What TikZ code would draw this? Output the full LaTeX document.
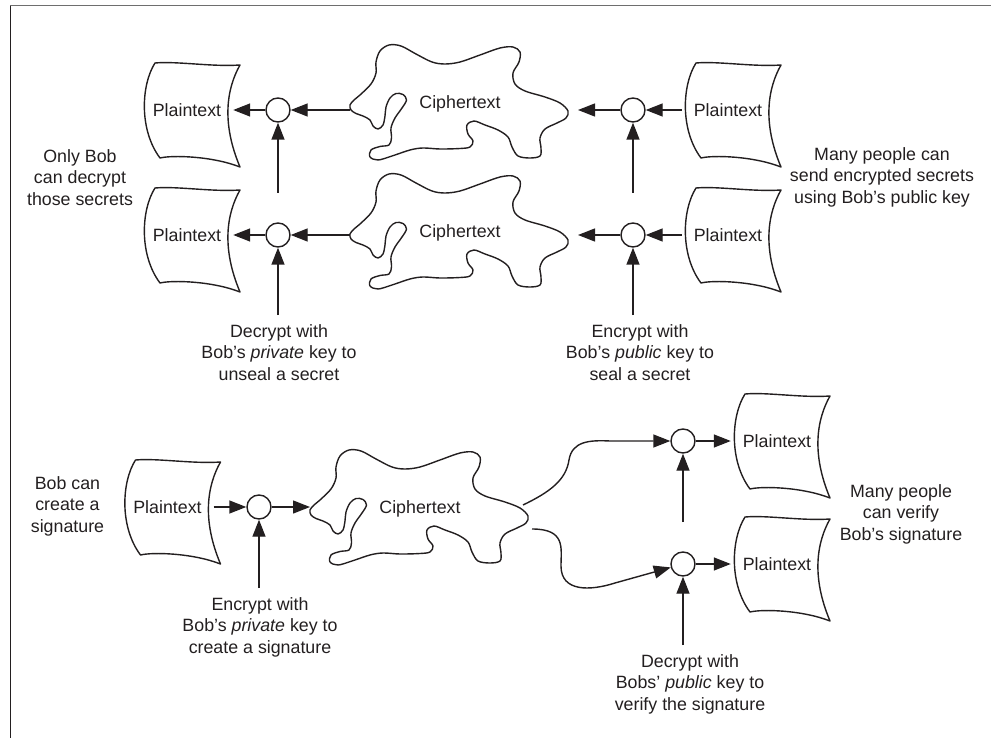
\documentclass[tikz,border=0pt]{standalone}
\usepackage{fontspec}
\setmainfont{Liberation Sans}
\usetikzlibrary{arrows.meta}
\definecolor{ink}{RGB}{35,31,32}
\definecolor{rulegray}{RGB}{110,110,110}

\begin{document}
\begin{tikzpicture}[x=1pt,y=-1pt,
  txt/.style={font=\fontsize{17.8}{21.5}\selectfont, text=ink, align=center, inner sep=0pt},
  keylabel/.style={txt, anchor=north, inner ysep=9pt},
  sidelabel/.style={txt, anchor=north},
  sheetnode/.style={txt, minimum width=92pt, minimum height=100pt},
  junction/.style={circle, draw=ink, line width=1.4pt, minimum size=24pt, inner sep=0pt},
  flow/.style={draw=ink, line width=1.4pt, -{Triangle[length=17pt,width=13pt]}},
  inkline/.style={draw=ink, line width=1.4pt, line join=round},
  % a curled sheet of paper, drawn round the centre of its text
  sheet/.pic={
    \draw[inkline] (-32,-47) .. controls (-10,-49) and (25,-43) .. (53,-45)
      .. controls (40,-22) and (34,12) .. (53,57)
      .. controls (25,46) and (-15,45) .. (-27,48)
      .. controls (-48,20) and (-46,-25) .. cycle;
  },
  % an irregular blob, drawn from its left tip
  blob/.pic={
    \draw[inkline] plot[smooth cycle, tension=0.55] coordinates {
      (1,0) (0,-5) (4,-10) (10,-15) (21,-26) (26,-37) (26,-48) (30,-59)
      (39,-65) (51,-64) (66,-56) (82,-48) (95,-46) (110,-48) (130,-55)
      (150,-62) (163,-63) (170,-58) (169,-48) (163,-37) (165,-26) (175,-19)
      (195,-13) (210,-7) (218,1) (216,8) (207,13) (195,19) (190,28) (191,38)
      (190,46) (180,48) (168,46) (162,37) (158,27) (148,20) (135,15) (124,11)
      (117,15) (118,24) (123,31) (120,37) (110,38.5) (90,39) (73,38) (60,40)
      (42,46) (28,50) (20,47) (21,40) (30,36.5) (39,35) (41.5,28) (41,18)
      (45,8) (52,-2) (56.5,-10) (53,-15.5) (46,-16.5) (40,-12) (36,-3) (35,6)
      (33,15) (28,19) (23,16) (20,10) (13,6) (6,3.5)};
    \coordinate (-w) at (0,-3);
    \coordinate (-e) at (228,0);
    \coordinate (-ne) at (213,-10);
    \coordinate (-se) at (222,14);
  }
]
\useasboundingbox (0,0) rectangle (991,738);

% frame
\draw[rulegray, line width=1.5pt] (10,5.7) -- (991,5.7);
\draw[ink, line width=1pt] (10,5.7) -- (10,738);

% ---------- sealing and unsealing secrets ----------
\node[sheetnode] (pL1) at (187,110) {Plaintext};
\node[sheetnode] (pL2) at (187,235) {Plaintext};
\node[sheetnode] (pR1) at (728,110) {Plaintext};
\node[sheetnode] (pR2) at (728,235) {Plaintext};
\pic at (pL1) {sheet};
\pic at (pL2) {sheet};
\pic at (pR1) {sheet};
\pic at (pR2) {sheet};

\pic (c1) at (350,110) {blob};
\pic (c2) at (350,239) {blob};
\node[txt] (c1t) at (460,103.5) {Ciphertext};
\node[txt] (c2t) at (460,232.5) {Ciphertext};

\node[junction] (d1) at (278,110) {};
\node[junction] (d2) at (278,235) {};
\node[junction] (e1) at (633,110) {};
\node[junction] (e2) at (633,235) {};

\draw[flow] (pR1) -- (e1);
\draw[flow] (pR2) -- (e2);
\draw[flow] (e1) -- (c1-e |- e1);
\draw[flow] (e2) -- (c2-e |- e2);
\draw[flow] (c1-w |- d1) -- (d1);
\draw[flow] (c2-w |- d2) -- (d2);
\draw[flow] (d1) -- (pL1);
\draw[flow] (d2) -- (pL2);

\coordinate (kd1) at (278,193);
\coordinate (ke1) at (633,193);
\draw[flow] (kd1) -- (d1);
\draw[flow] (ke1) -- (e1);

\node[keylabel] (kd2) at (279,315) {Decrypt with\\Bob’s \textit{private} key to\\unseal a secret};
\node[keylabel] (ke2) at (640,315) {Encrypt with\\Bob’s \textit{public} key to\\seal a secret};
\draw[flow] (d2 |- kd2.north) -- (d2);
\draw[flow] (e2 |- ke2.north) -- (e2);

\node[sidelabel] (only) at (80,149) {Only Bob\\can decrypt\\those secrets};
\node[sidelabel] (many) at (882,147) {Many people can\\send encrypted secrets\\using Bob’s public key};

% ---------- signing and verifying ----------
\node[sheetnode] (pB) at (167.5,507) {Plaintext};
\node[sheetnode] (pV1) at (777,441) {Plaintext};
\node[sheetnode] (pV2) at (777,564) {Plaintext};
\pic at (pB) {sheet};
\pic at (pV1) {sheet};
\pic at (pV2) {sheet};

\pic (c3) at (310,515) {blob};
\node[txt] (c3t) at (420,508.5) {Ciphertext};

\node[junction] (s) at (259,507) {};
\node[junction] (v1) at (683,441) {};
\node[junction] (v2) at (683,564) {};

\draw[flow] (pB) -- (s);
\draw[flow] (s) -- (c3-w |- s);
\draw[flow] (c3-ne) .. controls (550,492) and (566,480) .. (569,460)
  .. controls (572,441) and (590,440) .. (610,441) -- (v1);
\draw[flow] (c3-se) .. controls (566,529) and (561,548) .. (561,566)
  .. controls (561,592) and (590,591) .. (615,583) -- (v2);
\draw[flow] (v1) -- (pV1);
\draw[flow] (v2) -- (pV2);

\node[keylabel] (ks) at (260,588) {Encrypt with\\Bob’s \textit{private} key to\\create a signature};
\draw[flow] (s |- ks.north) -- (s);

\coordinate (kv1) at (683,522);
\draw[flow] (kv1) -- (v1);
\node[keylabel] (kv2) at (690,645) {Decrypt with\\Bobs’ \textit{public} key to\\verify the signature};
\draw[flow] (v2 |- kv2.north) -- (v2);

\node[sidelabel] (bob) at (67.5,476) {Bob can\\create a\\signature};
\node[sidelabel] (verify) at (901,484) {Many people\\can verify\\Bob’s signature};
\end{tikzpicture}
\end{document}
